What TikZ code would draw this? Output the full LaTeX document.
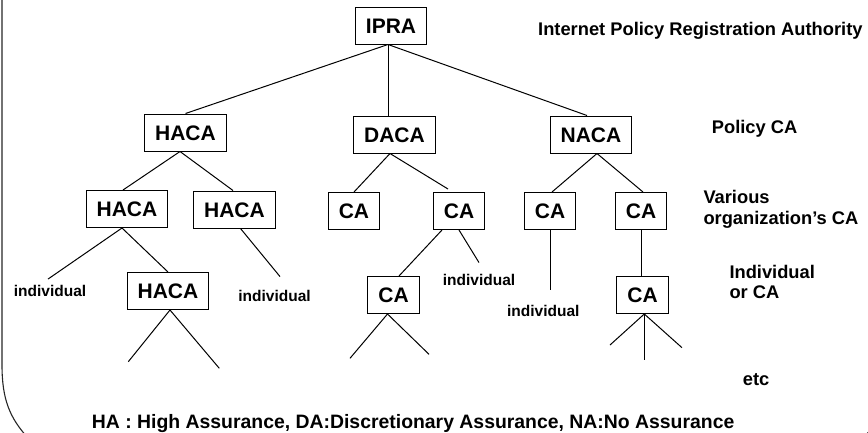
\documentclass[tikz,border=0pt]{standalone}
\usepackage{fontspec}
\setmainfont{Liberation Sans}
\begin{document}
\begin{tikzpicture}[x=1pt,y=-1pt,
  box/.style={draw, line width=1pt, font=\fontsize{21}{21}\selectfont\bfseries,
    inner xsep=10.5pt, inner ysep=11pt, text height=15pt, text depth=0pt},
  side/.style={font=\fontsize{18.3}{20.7}\selectfont\bfseries, anchor=base west, inner sep=0pt},
  leaf/.style={font=\fontsize{15.5}{16}\selectfont\bfseries, anchor=base, inner sep=0pt},
  link/.style={line width=1pt},
  frame/.style={line width=1.1pt, draw=black!85},
]
\useasboundingbox (0,0) rectangle (868,432);

% outer rounded frame
\draw[frame] (2,-5) -- (2,365) .. controls (2,400) and (10,418) .. (28,438);
\draw[frame] (894,365) .. controls (894,400) and (886,418) .. (862,438);

% tree nodes
\node[box] (ipra) at (391,25.5) {IPRA};
\node[box] (haca) at (185.5,132.5) {HACA};
\node[box] (daca) at (394.5,134.5) {DACA};
\node[box] (naca) at (591,134.5) {NACA};

\node[box] (hacaL) at (127,209) {HACA};
\node[box] (hacaR) at (234.5,209.5) {HACA};
\node[box] (caA) at (354,211) {CA};
\node[box] (caB) at (459,211) {CA};
\node[box] (caC) at (550,211) {CA};
\node[box] (caD) at (641,211) {CA};

\node[box] (hacaB) at (168,291) {HACA};
\node[box] (caE) at (393.5,295) {CA};
\node[box] (caF) at (642.5,295) {CA};

% end users
\node[leaf] (indA) at (50,296.5) {individual};
\node[leaf] (indB) at (274.5,301) {individual};
\node[leaf] (indC) at (479,285) {individual};
\node[leaf] (indD) at (543.3,316.7) {individual};

% level labels
\node[side] (lvl1) at (538,35) {Internet Policy Registration Authority};
\node[side] (lvl2) at (711.7,133.3) {Policy CA};
\node[side] (lvl3a) at (703.3,203.3) {Various};
\node[side] (lvl3b) at (703.3,224) {organization’s CA};
\node[side] (lvl4a) at (729.3,278.3) {Individual};
\node[side] (lvl4b) at (729.3,298.3) {or CA};
\node[side] (lvl5) at (742.7,385) {etc};
\node[side, font=\fontsize{19.4}{20}\selectfont\bfseries] (legend) at (91.7,428.3)
  {HA : High Assurance, DA:Discretionary Assurance, NA:No Assurance};

% open ends below the lowest level
\coordinate (hB1) at (128.3,361.7);
\coordinate (hB2) at (219.3,368.3);
\coordinate (cE1) at (350,358.3);
\coordinate (cE2) at (429,354.3);
\coordinate (cF1) at (610,345);
\coordinate (cF2) at (682,347.7);
\coordinate (cF3) at (644.3,360);

% connectors
\draw[link] ([xshift=-3pt]ipra.south) -- (haca.north);
\draw[link] ([xshift=-3pt]ipra.south) -- ([xshift=-3pt]ipra.south |- daca.north);
\draw[link] ([xshift=-3pt]ipra.south) -- ([xshift=-4pt]naca.north);

\draw[link] ([xshift=-5.5pt]haca.south) -- ([xshift=-4pt]hacaL.north);
\draw[link] ([xshift=-5.5pt]haca.south) -- ([xshift=-1.5pt]hacaR.north);
\draw[link] ([xshift=-4.5pt]daca.south) -- (caA.north);
\draw[link] ([xshift=-4.5pt]daca.south) -- ([xshift=-11pt,yshift=3pt]caB.north);
\draw[link] ([xshift=6pt]naca.south) -- ([xshift=2pt]caC.north);
\draw[link] ([xshift=6pt]naca.south) -- ([xshift=2pt]caD.north);

\draw[link] ([xshift=-5pt]hacaL.south) -- ([xshift=-2pt,yshift=6pt]indA.north);
\draw[link] ([xshift=-5pt]hacaL.south) -- (hacaB.north);
\draw[link] ([xshift=6pt]hacaR.south) -- ([xshift=5.5pt,yshift=13pt]indB.north);
\draw[link] ([xshift=-17pt]caB.south) -- ([xshift=5.5pt]caE.north);
\draw[link] (caB.south) -- ([yshift=11pt]indC.north);
\draw[link] (caC.south) -- ([xshift=6.7pt,yshift=15pt]indD.north);
\draw[link] ([xshift=0.7pt]caD.south) -- ([xshift=-0.8pt]caF.north);

\draw[link] ([xshift=2pt]hacaB.south) -- (hB1);
\draw[link] ([xshift=2pt]hacaB.south) -- (hB2);
\draw[link] ([xshift=-6pt]caE.south) -- (cE1);
\draw[link] ([xshift=-6pt]caE.south) -- (cE2);
\draw[link] ([xshift=1.8pt]caF.south) -- (cF1);
\draw[link] ([xshift=1.8pt]caF.south) -- (cF2);
\draw[link] ([xshift=1.8pt]caF.south) -- (cF3);
\end{tikzpicture}
\end{document}
